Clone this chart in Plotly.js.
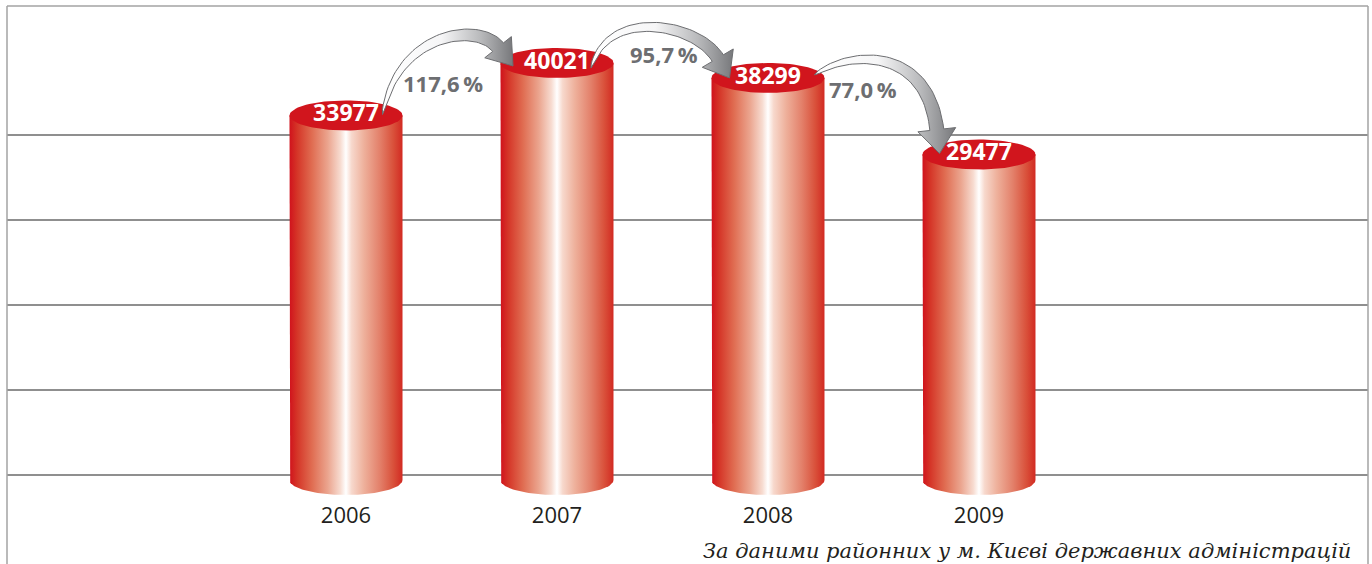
<!DOCTYPE html>
<html><head><meta charset="utf-8">
<script src="https://cdn.plot.ly/plotly-3.0.1.min.js"></script>
<style>html,body{margin:0;padding:0;background:#fff}#chart{width:1372px;height:564px}</style>
</head><body><div id="chart"></div>
<script>
// ---- data ----
const years = ['2006', '2007', '2008', '2009'];
const values = [33977, 40021, 38299, 29477];
const growthLabels = ['117,6\u2009%', '95,7\u2009%', '77,0\u2009%'];
const sourceNote = 'За даними районних у м. Києві державних адміністрацій';

// ---- geometry / style ----
const W = 1372, H = 564;
const M = {l: 7, r: 4, t: 6, b: 64};
const plotW = W - M.l - M.r;
const plotH = H - M.t - M.b;
const X_RANGE = [-1.6066, 4.8436];
const Y_RANGE = [-10300, 46580];
const BASE = -8000;
const CYL_W = 0.5355;
const ELL_PX = 15;
const RED = '#d1151d';
const GRAY = '#6d6e71';
const GRID_PX = [475, 390, 305, 220, 135];

function px2x(p){ return X_RANGE[0] + (p - M.l) / plotW * (X_RANGE[1] - X_RANGE[0]); }
function px2y(p){ return Y_RANGE[1] - (p - M.t) / plotH * (Y_RANGE[1] - Y_RANGE[0]); }
function x2px(x){ return M.l + (x - X_RANGE[0]) / (X_RANGE[1] - X_RANGE[0]) * plotW; }
function y2px(y){ return M.t + (Y_RANGE[1] - y) / (Y_RANGE[1] - Y_RANGE[0]) * plotH; }
const ry = ELL_PX / plotH * (Y_RANGE[1] - Y_RANGE[0]);
const xIdx = years.map((_, i) => i);

const bodyScale = [[0,'#d0121c'],[0.07,'#d53628'],[0.2,'#e06d52'],[0.34,'#eba58f'],[0.45,'#f7dbd0'],[0.5,'#ffffff'],[0.55,'#f7d8cc'],[0.66,'#eeb09b'],[0.8,'#e3806a'],[0.92,'#d9503a'],[1,'#d22a22']];

const traces = [];
// cylinders
xIdx.forEach((i) => {
  const v = values[i], hw = CYL_W / 2;
  const bx = [i - hw, i - hw], by = [v, BASE];
  const N = 60;
  for (let k = 0; k <= N; k++) {
    const a = Math.PI + k / N * Math.PI;
    bx.push(i + hw * Math.cos(a)); by.push(BASE + ry * Math.sin(a));
  }
  bx.push(i + hw); by.push(v);
  traces.push({type: 'scatter', mode: 'lines', x: bx, y: by, fill: 'toself',
    line: {width: 0, color: 'rgba(0,0,0,0)'}, hoverinfo: 'skip', showlegend: false,
    fillgradient: {type: 'horizontal', start: i - hw, stop: i + hw, colorscale: bodyScale}});
  const ex = [], ey = [];
  for (let k = 0; k <= 80; k++) {
    const a = k / 80 * 2 * Math.PI;
    ex.push(i + hw * Math.cos(a)); ey.push(v + ry * Math.sin(a));
  }
  traces.push({type: 'scatter', mode: 'lines', x: ex, y: ey, fill: 'toself', fillcolor: RED,
    line: {width: 0, color: RED}, hoverinfo: 'skip', showlegend: false});
});

// arrows (pixel offsets relative to the cylinder tops)
const arrowStyle = [
  {tail: [36.5, -1], tip: [-44, 3], c1: [15, -83], c2: [-35, -44], body: 7, head: 17, len: 24},
  {tail: [34, 5], tip: [-38.5, 0], c1: [17, -62], c2: [-32, -54], body: 6.5, head: 18, len: 23},
  {tail: [46.5, -3], tip: [-39.5, -1], c1: [35, -25], c2: [-12, -107], body: 7, head: 19, len: 24}
];
const labelOffset = [[61, -31], [73, -14], [48, 14]];
const annotations = [];

function bez(p0, p1, p2, p3, t){
  const u = 1 - t;
  return [u*u*u*p0[0] + 3*u*u*t*p1[0] + 3*u*t*t*p2[0] + t*t*t*p3[0],
          u*u*u*p0[1] + 3*u*u*t*p1[1] + 3*u*t*t*p2[1] + t*t*t*p3[1]];
}
function bezD(p0, p1, p2, p3, t){
  const u = 1 - t;
  return [3*u*u*(p1[0]-p0[0]) + 6*u*t*(p2[0]-p1[0]) + 3*t*t*(p3[0]-p2[0]),
          3*u*u*(p1[1]-p0[1]) + 6*u*t*(p2[1]-p1[1]) + 3*t*t*(p3[1]-p2[1])];
}

growthLabels.forEach((lab, i) => {
  const s = arrowStyle[i];
  const a0 = [x2px(i), y2px(values[i])];
  const a1 = [x2px(i + 1), y2px(values[i + 1])];
  const tail = [a0[0] + s.tail[0], a0[1] + s.tail[1]];
  const tip = [a1[0] + s.tip[0], a1[1] + s.tip[1]];
  const c1 = [tail[0] + s.c1[0], tail[1] + s.c1[1]];
  const c2 = [tip[0] + s.c2[0], tip[1] + s.c2[1]];
  let d = [tip[0] - c2[0], tip[1] - c2[1]];
  let dl = Math.hypot(d[0], d[1]); d = [d[0]/dl, d[1]/dl];
  const neck = [tip[0] - d[0]*s.len, tip[1] - d[1]*s.len];
  const Ns = 50, left = [], right = [];
  let nEnd = [0, 0];
  for (let k = 0; k <= Ns; k++) {
    const t = k / Ns;
    const p = bez(tail, c1, c2, neck, t);
    const g = bezD(tail, c1, c2, neck, t);
    const gl = Math.hypot(g[0], g[1]) || 1;
    const n = [-g[1]/gl, g[0]/gl];
    const hw = s.body * Math.sqrt(t);
    left.push([p[0] + n[0]*hw, p[1] + n[1]*hw]);
    right.push([p[0] - n[0]*hw, p[1] - n[1]*hw]);
    if (k === Ns) nEnd = n;
  }
  const poly = left.slice();
  poly.push([neck[0] + nEnd[0]*s.head, neck[1] + nEnd[1]*s.head]);
  poly.push(tip);
  poly.push([neck[0] - nEnd[0]*s.head, neck[1] - nEnd[1]*s.head]);
  for (let k = right.length - 1; k >= 0; k--) poly.push(right[k]);
  poly.push(poly[0]);
  const xs = poly.map(p => px2x(p[0])), ys = poly.map(p => px2y(p[1]));
  const xmin = Math.min(...xs), xmax = Math.max(...xs);
  traces.push({type: 'scatter', mode: 'lines', x: xs, y: ys, fill: 'toself',
    line: {width: 1, color: GRAY}, hoverinfo: 'skip', showlegend: false,
    fillgradient: {type: 'horizontal', start: xmin, stop: xmax,
      colorscale: [[0,'#ffffff'],[0.45,'#f6f6f7'],[0.75,'#b9babc'],[1,'#77787b']]}});
  annotations.push({x: px2x(tail[0] + labelOffset[i][0]), y: px2y(tail[1] + labelOffset[i][1]),
    xref: 'x', yref: 'y', text: lab, showarrow: false, xanchor: 'center', yanchor: 'middle',
    font: {family: 'Open Sans', size: 22, color: GRAY, weight: 'bold'}});
});

// value labels on the tops
traces.push({type: 'scatter', mode: 'text', x: xIdx, y: values, text: values.map(String),
  textposition: 'middle center', cliponaxis: false, hoverinfo: 'skip', showlegend: false,
  textfont: {family: 'Open Sans', size: 23, color: '#ffffff', weight: 'bold'}});

annotations.push({xref: 'paper', yref: 'paper', x: (1353 - M.l) / plotW, y: (M.t + plotH - 551) / plotH,
  xanchor: 'right', yanchor: 'middle', showarrow: false, text: sourceNote,
  font: {family: 'DejaVu Serif', size: 21, color: '#231f20', style: 'italic'}});

const frameColor = '#a3a3a3';
const shapes = [
  {type: 'line', xref: 'paper', yref: 'paper', x0: 0, x1: 0, y0: -0.2, y1: 1, line: {color: frameColor, width: 1.5}},
  {type: 'line', xref: 'paper', yref: 'paper', x0: 1, x1: 1, y0: -0.2, y1: 1, line: {color: frameColor, width: 1.5}},
  {type: 'line', xref: 'paper', yref: 'paper', x0: 0, x1: 1, y0: 1, y1: 1, line: {color: frameColor, width: 1.5}}
];

const layout = {
  width: W, height: H, margin: M, paper_bgcolor: '#ffffff', plot_bgcolor: '#ffffff',
  font: {family: 'Open Sans', color: '#231f20'}, showlegend: false, hovermode: false,
  xaxis: {range: X_RANGE, tickvals: xIdx, ticktext: years, showgrid: false, zeroline: false,
    showline: false, ticks: '', tickfont: {size: 22, color: '#231f20'}, ticklabelstandoff: 0, fixedrange: true},
  yaxis: {range: Y_RANGE, tickvals: GRID_PX.map(px2y), showgrid: true, gridcolor: '#8f8f8f', gridwidth: 1.3,
    zeroline: false, showticklabels: false, ticks: '', fixedrange: true},
  shapes: shapes, annotations: annotations
};
Plotly.newPlot('chart', traces, layout, {displayModeBar: false, staticPlot: true});
</script></body></html>
